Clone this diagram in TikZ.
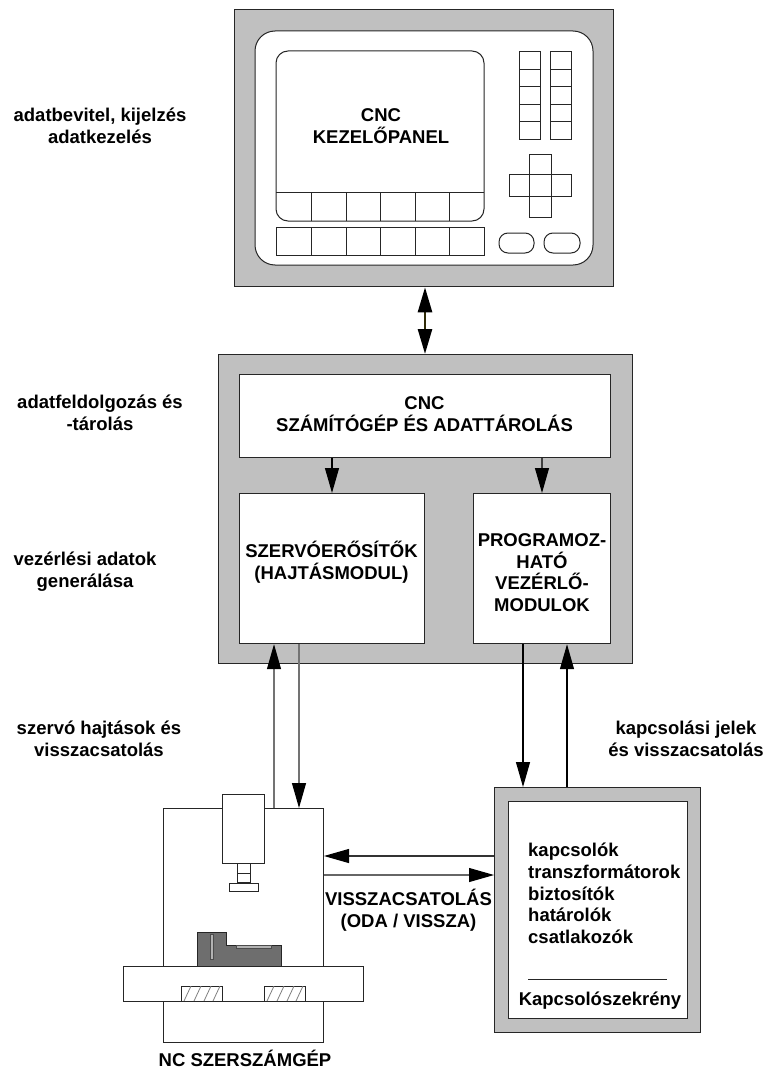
\documentclass[tikz,border=0pt]{standalone}
\usepackage{fontspec}
\setmainfont{Liberation Sans}
\usetikzlibrary{arrows.meta}

\definecolor{framegray}{RGB}{192,192,192}
\definecolor{workgray}{RGB}{110,110,110}
\definecolor{linkolive}{RGB}{48,44,8}

\tikzset{
  frame/.style={draw=black!85, line width=1.3pt, fill=framegray, anchor=north west, inner sep=0pt},
  box/.style={draw=black!85, line width=1.2pt, fill=white, anchor=north west, inner sep=0pt},
  part/.style={draw=black!85, line width=1pt},
  txt/.style={font=\fontsize{18.5}{21.7}\selectfont\bfseries, align=center, inner sep=0pt},
  flow/.style={line width=1.1pt, -{Triangle[length=25pt,width=14pt,color=black]}},
}

\begin{document}
\begin{tikzpicture}[x=1pt,y=-1pt]
	%%Location
	\useasboundingbox (0,0) rectangle (772,1070);

	%%Operator panel
	\node[frame, minimum width=379pt, minimum height=277pt] (panel) at (234,9) {};
	\filldraw[part, fill=white, rounded corners=20pt] (255,31) rectangle (593,265);
	\draw[part, rounded corners=12pt] (276,51) rectangle (484,221);
	\draw[part] (276,192) -- (484,192);
	\draw[part] (276,227) rectangle (484,255);
	\foreach \x in {311,346,380,415,449} {
		\draw[part] (\x,192) -- (\x,221);
		\draw[part] (\x,227) -- (\x,255);
	}
	\foreach \x in {519,550} {
		\draw[part] (\x,52) rectangle ++(21,87);
		\foreach \k in {1,...,4}
			\draw[part] (\x,{52+17.4*\k}) -- ++(21,0);
	}
	\draw[part] (529,154) rectangle (551,217);
	\draw[part] (509,174) rectangle (571,196);
	\draw[part, rounded corners=9pt] (499,233) rectangle (534,253);
	\draw[part, rounded corners=9pt] (544,233) rectangle (580,253);
	\node[txt] (paneltxt) at (381,126) {CNC\\KEZELŐPANEL};

	%%Processing unit
	\node[frame, minimum width=414pt, minimum height=309pt] (proc) at (218,354) {};
	\node[box, minimum width=371pt, minimum height=83pt] (cnc) at (239,374) {};
	\node[txt] (cnctxt) at (424.5,414) {CNC\\SZÁMÍTÓGÉP ÉS ADATTÁROLÁS};
	\node[box, minimum width=185pt, minimum height=150pt] (servo) at (239,493) {};
	\node[txt] (servotxt) at (331.5,562.5) {SZERVÓERŐSÍTŐK\\(HAJTÁSMODUL)};
	\node[box, minimum width=137pt, minimum height=150pt] (plc) at (473,493) {};
	\node[txt] (plctxt) at (542,572.5) {PROGRAMOZ-\\HATÓ\\VEZÉRLŐ-\\MODULOK};

	%%Machine tool
	\node[box, line width=1pt, minimum width=160pt, minimum height=234pt] (machine) at (163,808) {};
	\filldraw[part, fill=white] (222,794) rectangle (264,863);
	\filldraw[part, fill=white] (237,863) rectangle (250,882);
	\draw[part] (237,873) -- (250,873);
	\filldraw[part, fill=white] (229,883) rectangle (258,891);
	\filldraw[part, fill=white] (123,966) rectangle (363,1001);
	\filldraw[part, fill=workgray] (197,966) -- (197,932) -- (226,932) -- (226,945)
		-- (281,945) -- (281,966) -- cycle;
	\filldraw[draw=black!70, line width=0.6pt, fill=black!30] (210,934) rectangle (213,959);
	\filldraw[draw=black!70, line width=0.6pt, fill=black!30] (236,945) rectangle (271,948);
	\foreach \dx in {0,83} {
		\filldraw[part, fill=white] (181+\dx,986) rectangle (222+\dx,1001);
		\begin{scope}
			\clip (181+\dx,986) rectangle (222+\dx,1001);
			\foreach \h in {184,194,204,213}
				\draw[black!50, line width=0.8pt] (\h+\dx,1001) -- (\h+\dx+7,986);
		\end{scope}
	}
	\node[txt, anchor=base] (machinetxt) at (245,1066) {NC SZERSZÁMGÉP};

	%%Switch cabinet
	\node[frame, minimum width=206pt, minimum height=245pt] (cabinet) at (494,787) {};
	\node[box, line width=1pt, minimum width=179pt, minimum height=217pt] (cabinner) at (508,801) {};
	\node[txt, align=left, anchor=west, font=\fontsize{18.5}{21.75}\selectfont\bfseries] (parts) at (528,893.5)
		{kapcsolók\\transzformátorok\\biztosítók\\határolók\\csatlakozók};
	\draw[part] (528,979) -- (667,979);
	\node[txt] (cabtxt) at (600,1001) {Kapcsolószekrény};

	%%Side labels
	\node[txt] (lab1) at (100,126) {adatbevitel, kijelzés\\adatkezelés};
	\node[txt] (lab2) at (100,413) {adatfeldolgozás és\\-tárolás};
	\node[txt] (lab3) at (85,572) {vezérlési adatok\\generálása};
	\node[txt] (lab4) at (99,739) {szervó hajtások és\\visszacsatolás};
	\node[txt] (lab5) at (686,739) {kapcsolási jelek\\és visszacsatolás};
	\node[txt] (lab6) at (408.5,910.5) {VISSZACSATOLÁS\\(ODA / VISSZA)};

	%%Connections
	\coordinate (xlink) at (425,0);
	\coordinate (xa) at (332,0);
	\coordinate (xb) at (542,0);
	\coordinate (xc) at (274,0);
	\coordinate (xd) at (299,0);
	\coordinate (xe) at (523,0);
	\coordinate (xf) at (567,0);
	\coordinate (yg) at (0,856);
	\coordinate (yh) at (0,875);

	\draw[draw=linkolive, line width=2.6pt, {Triangle[length=25pt,width=14pt,color=black]}-{Triangle[length=25pt,width=14pt,color=black]}]
		(panel.south -| xlink) -- (proc.north -| xlink);
	\draw[flow] (cnc.south -| xa) -- (servo.north -| xa);
	\draw[flow, draw=black!75] (cnc.south -| xb) -- (plc.north -| xb);
	\draw[flow, draw=black!55] (machine.north -| xc) -- (servo.south -| xc);
	\draw[flow, draw=black!55] (servo.south -| xd) -- (machine.north -| xd);
	\draw[flow] (plc.south -| xe) -- (cabinet.north -| xe);
	\draw[flow] (cabinet.north -| xf) -- (plc.south -| xf);
	\draw[flow, draw=black!80] (cabinet.west |- yg) -- (machine.east |- yg);
	\draw[flow, draw=black!60] (machine.east |- yh) -- (cabinet.west |- yh);
\end{tikzpicture}
\end{document}
